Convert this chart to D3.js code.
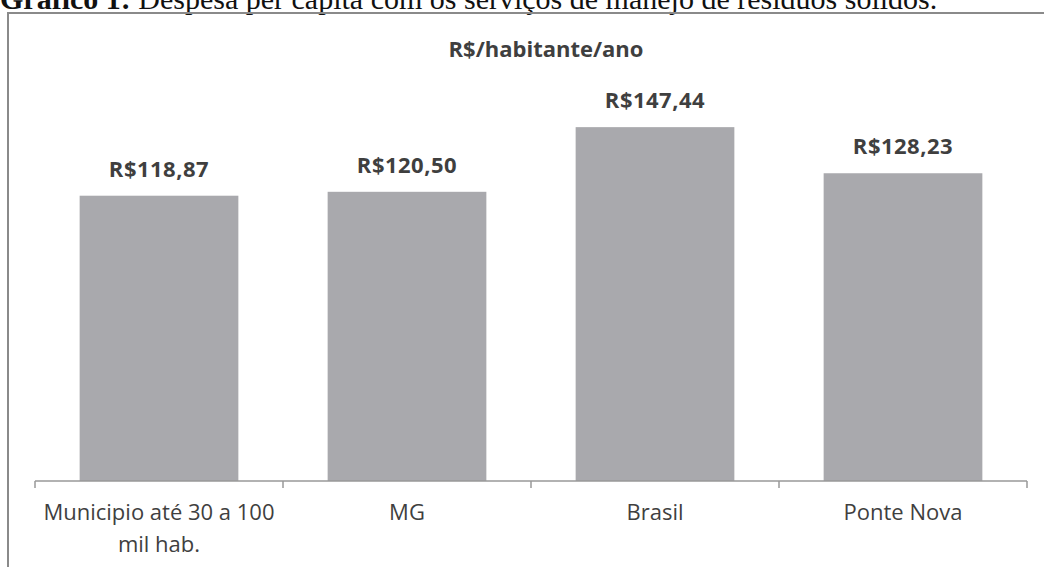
<!DOCTYPE html>
<html>
<head>
<meta charset="utf-8">
<script src="https://cdn.jsdelivr.net/npm/d3@7"></script>
<style>
  body { margin: 0; background: #fff; }
  svg { display: block; }
</style>
</head>
<body>
<svg id="chart"></svg>
<script>
        // data
        var categories = ["Municipio até 30 a 100 mil hab.", "MG", "Brasil", "Ponte Nova"];
        var values = [118.87, 120.50, 147.44, 128.23];
        var valueLabels = ["R$118,87", "R$120,50", "R$147,44", "R$128,23"];
        var categoryLines = [["Municipio até 30 a 100", "mil hab."], ["MG"], ["Brasil"], ["Ponte Nova"]];

        var width = 1044,
            height = 567;

        var chart = d3.select('#chart')
            .attr('width', width)
            .attr('height', height);

        // caption above the frame (cropped at the top in the scan)
        var caption = chart.append('text')
            .attr('x', 0)
            .attr('y', 9)
            .style('font-family', '"Liberation Serif", "Times New Roman", serif')
            .style('font-size', '30px')
            .style('fill', '#111');
        caption.append('tspan').style('font-weight', 'bold').text('Gráfico 1:');
        caption.append('tspan').text(' Despesa per capita com os serviços de manejo de resíduos sólidos.');

        // frame of the chart
        chart.append('rect')
            .attr('x', 8)
            .attr('y', 13)
            .attr('width', 1060)
            .attr('height', 600)
            .attr('fill', 'none')
            .attr('stroke', '#8a8a8a')
            .attr('stroke-width', 2);

        // title
        chart.append('text')
            .attr('x', 546)
            .attr('y', 57)
            .attr('text-anchor', 'middle')
            .style('font-family', '"Open Sans", sans-serif')
            .style('font-weight', 'bold')
            .style('font-size', '22px')
            .style('fill', '#3f3f3f')
            .text('R$/habitante/ano');

        var xScale = d3.scaleBand()
            .domain(categories)
            .range([35, 1027])
            .paddingInner(0.36)
            .paddingOuter(0.18);

        var yScale = d3.scaleLinear()
            .domain([0, 160])
            .range([481, 97]);

        var rows = categories.map(function(c, i) {
            return { name: c, value: values[i], label: valueLabels[i], lines: categoryLines[i] };
        });

        // bars
        chart.append('g')
            .attr('id', 'bars-container')
            .selectAll('.bar')
            .data(rows)
            .enter().append('rect')
            .attr('class', 'bar')
            .attr('x', function(d) { return xScale(d.name); })
            .attr('y', function(d) { return yScale(d.value); })
            .attr('width', xScale.bandwidth())
            .attr('height', function(d) { return yScale(0) - yScale(d.value); })
            .attr('fill', '#a9a9ad');

        // value labels
        chart.append('g')
            .selectAll('text')
            .data(rows)
            .enter().append('text')
            .attr('x', function(d) { return xScale(d.name) + xScale.bandwidth() / 2; })
            .attr('y', function(d) { return yScale(d.value) - 19; })
            .attr('text-anchor', 'middle')
            .style('font-family', '"Open Sans", sans-serif')
            .style('font-weight', 'bold')
            .style('font-size', '22px')
            .style('letter-spacing', '0.5px')
            .style('fill', '#3f3f3f')
            .text(function(d) { return d.label; });

        // x axis: line with ticks at band edges
        var edges = d3.range(categories.length + 1).map(function(i) { return 35 + i * (992 / categories.length); });
        var axis = chart.append('g').attr('id', 'x-axis');
        axis.append('line')
            .attr('x1', 35).attr('x2', 1027)
            .attr('y1', yScale(0)).attr('y2', yScale(0))
            .attr('stroke', '#999').attr('stroke-width', 1.5);
        axis.selectAll('.tick')
            .data(edges)
            .enter().append('line')
            .attr('class', 'tick')
            .attr('x1', function(d) { return d; }).attr('x2', function(d) { return d; })
            .attr('y1', yScale(0)).attr('y2', yScale(0) + 7)
            .attr('stroke', '#999').attr('stroke-width', 1.5);

        // category labels
        var catLabels = axis.selectAll('.cat')
            .data(rows)
            .enter().append('text')
            .attr('class', 'cat')
            .attr('text-anchor', 'middle')
            .style('font-family', '"Open Sans", sans-serif')
            .style('font-size', '22px')
            .style('fill', '#3f3f3f');
        catLabels.selectAll('tspan')
            .data(function(d) {
                var cx = xScale(d.name) + xScale.bandwidth() / 2;
                return d.lines.map(function(l) { return { text: l, cx: cx }; });
            })
            .enter().append('tspan')
            .attr('x', function(d) { return d.cx; })
            .attr('y', function(d, i) { return 520 + i * 32; })
            .text(function(d) { return d.text; });
</script>
</body>
</html>
